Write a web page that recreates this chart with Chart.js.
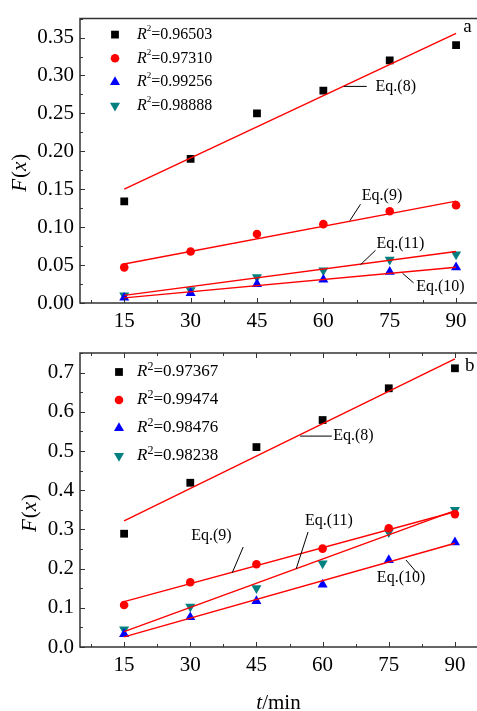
<!DOCTYPE html>
<html>
<head>
<meta charset="utf-8">
<script src="https://cdn.jsdelivr.net/npm/chart.js@4.4.0/dist/chart.umd.min.js"></script>
<style>
    html, body { margin: 0; padding: 0; background: #fff; overflow: hidden; width: 477px; height: 711px; }
    canvas { position: absolute; left: 0; }
    #chartA { top: 0; }
    #chartB { top: 330px; }
</style>
</head>
<body>
<canvas id="chartA" width="484" height="330"></canvas>
<canvas id="chartB" width="484" height="381"></canvas>
<script>
// Values
const times = [15, 30, 45, 60, 75, 90];
const xTicks = [15, 30, 45, 60, 75, 90];

// panel a
const aEq8 = [0.134, 0.190, 0.250, 0.280, 0.320, 0.340];
const aEq9 = [0.047, 0.068, 0.091, 0.104, 0.121, 0.129];
const aEq10 = [0.007, 0.013, 0.025, 0.031, 0.041, 0.047];
const aEq11 = [0.010, 0.017, 0.034, 0.043, 0.057, 0.064];
const aFit8 = [0.150, 0.3555];
const aFit9 = [0.0514, 0.1343];
const aFit10 = [0.0068, 0.0471];
const aFit11 = [0.0101, 0.0679];
const aR2 = ['0.96503', '0.97310', '0.99256', '0.98888'];
const aYTicks = [0, 0.05, 0.10, 0.15, 0.20, 0.25, 0.30, 0.35];

// panel b
const bEq8 = [0.289, 0.419, 0.510, 0.579, 0.660, 0.711];
const bEq9 = [0.107, 0.165, 0.211, 0.251, 0.303, 0.339];
const bEq10 = [0.033, 0.076, 0.117, 0.159, 0.222, 0.267];
const bEq11 = [0.045, 0.103, 0.150, 0.213, 0.293, 0.350];
const bFit8 = [0.3215, 0.735];
const bFit9 = [0.1157, 0.345];
const bFit10 = [0.026, 0.2646];
const bFit11 = [0.039, 0.348];
const bR2 = ['0.97367', '0.99474', '0.98476', '0.98238'];
const bYTicks = [0, 0.1, 0.2, 0.3, 0.4, 0.5, 0.6, 0.7];

const SERIF = '"Liberation Serif", "DejaVu Serif", serif';
const markerStyles = [
    { color: '#000000', pointStyle: 'rect', radius: 5.5, rotation: 0 },
    { color: '#ff0000', pointStyle: 'circle', radius: 4.3, rotation: 0 },
    { color: '#0000ff', pointStyle: 'triangle', radius: 5.8, rotation: 0 },
    { color: '#008080', pointStyle: 'triangle', radius: 5.8, rotation: 180 }
];

function toPoints(xs, ys) {
    return xs.map((x, i) => ({ x: x, y: ys[i] }));
}

function drawRuns(ctx, runs, x, y, align) {
    let total = 0;
    runs.forEach(r => { ctx.font = r.font; total += ctx.measureText(r.t).width + (r.gap || 0); });
    let cx = align === 'center' ? x - total / 2 : x;
    ctx.textAlign = 'left';
    ctx.textBaseline = 'middle';
    runs.forEach(r => {
        ctx.font = r.font;
        ctx.fillText(r.t, cx, y + (r.dy || 0));
        cx += ctx.measureText(r.t).width + (r.gap || 0);
    });
}

// frame, inward ticks, legend, titles and labels
const decorations = {
    id: 'decorations',
    afterDraw(chart, args, o) {
        const ctx = chart.ctx;
        const a = chart.chartArea;
        const xs = chart.scales.x, ys = chart.scales.y;
        ctx.save();

        // axis lines
        ctx.strokeStyle = '#333';
        ctx.lineWidth = 1.5;
        ctx.beginPath();
        ctx.moveTo(a.right + 10, a.top);
        ctx.lineTo(a.left, a.top);
        ctx.lineTo(a.left, a.bottom);
        ctx.lineTo(a.right + 10, a.bottom);
        ctx.stroke();

        // ticks
        ctx.lineWidth = 1;
        ctx.beginPath();
        for (let v = 7.5; v <= xs.max; v += 7.5) {
            const px = Math.round(xs.getPixelForValue(v)) + 0.5;
            const len = xTicks.includes(v) ? 5 : 3;
            ctx.moveTo(px, a.bottom);
            ctx.lineTo(px, a.bottom - len);
            if (o.topTicks) {
                ctx.moveTo(px, a.top);
                ctx.lineTo(px, a.top + len);
            }
        }
        const step = o.yTicks[1] - o.yTicks[0];
        for (let i = 0; i < o.yTicks.length; i++) {
            const v0 = o.yTicks[i];
            [v0, v0 + step / 2].forEach((v, k) => {
                if (v > ys.max) return;
                const py = Math.round(ys.getPixelForValue(v)) + 0.5;
                ctx.moveTo(a.left, py);
                ctx.lineTo(a.left + (k === 0 ? 5 : 3), py);
            });
        }
        ctx.stroke();

        // legend
        o.r2.forEach((txt, i) => {
            const m = markerStyles[i];
            const ly = a.top + o.legendY + i * o.legendGap;
            ctx.fillStyle = m.color;
            ctx.strokeStyle = m.color;
            Chart.helpers.drawPoint(ctx, { pointStyle: m.pointStyle, radius: m.radius, rotation: m.rotation, borderWidth: 0 },
                a.left + o.legendX, ly);
            ctx.fillStyle = '#000';
            drawRuns(ctx, [
                { t: 'R', font: 'italic ' + o.legendFont + 'px ' + SERIF },
                { t: '2', font: o.supFont + 'px ' + SERIF, dy: -o.supRise },
                { t: '=' + txt, font: o.legendFont + 'px ' + SERIF }
            ], a.left + o.legendText, ly, 'left');
        });

        // equation labels with leader lines
        ctx.strokeStyle = '#000';
        ctx.fillStyle = '#000';
        ctx.lineWidth = 1;
        o.labels.forEach(l => {
            if (l.lead) {
                ctx.beginPath();
                ctx.moveTo(xs.getPixelForValue(l.lead[0]), ys.getPixelForValue(l.lead[1]));
                ctx.lineTo(xs.getPixelForValue(l.lead[2]), ys.getPixelForValue(l.lead[3]));
                ctx.stroke();
            }
            ctx.font = l.size + 'px ' + SERIF;
            ctx.textAlign = 'left';
            ctx.textBaseline = 'middle';
            ctx.fillText(l.text, xs.getPixelForValue(l.x), ys.getPixelForValue(l.y));
        });

        // y title F(x)
        ctx.save();
        ctx.translate(a.left + o.yTitleDx, (a.top + a.bottom) / 2 + o.yTitleDy);
        ctx.rotate(-Math.PI / 2);
        drawRuns(ctx, [
            { t: 'F', font: 'italic 21px ' + SERIF, gap: 1 },
            { t: '(', font: '21px ' + SERIF },
            { t: 'x', font: 'italic 21px ' + SERIF, gap: 1 },
            { t: ')', font: '21px ' + SERIF }
        ], 0, 0, 'center');
        ctx.restore();

        // x title t/min
        if (o.xTitle) {
            drawRuns(ctx, [
                { t: 't', font: 'italic 21px ' + SERIF },
                { t: '/min', font: '21px ' + SERIF }
            ], (a.left + a.right) / 2, a.bottom + o.xTitleDy, 'center');
        }
        ctx.restore();
    }
};

function makeChart(id, p) {
    const names = ['Eq.(8)', 'Eq.(9)', 'Eq.(10)', 'Eq.(11)'];
    const markerSets = p.series.map((s, i) => ({
        label: names[i],
        data: toPoints(times, s),
        showLine: false,
        order: 2,
        pointStyle: markerStyles[i].pointStyle,
        rotation: markerStyles[i].rotation,
        pointRadius: markerStyles[i].radius,
        pointBackgroundColor: markerStyles[i].color,
        pointBorderWidth: 0,
        borderColor: markerStyles[i].color
    }));
    const fitSets = p.fits.map((f, i) => ({
        label: names[i] + ' fit',
        data: toPoints([15, 90], f),
        showLine: true,
        order: 1,
        borderColor: '#ff0000',
        borderWidth: 1.4,
        pointRadius: 0
    }));

    return new Chart(document.getElementById(id), {
        type: 'scatter',
        data: { datasets: markerSets.concat(fitSets) },
        options: {
            responsive: false,
            animation: false,
            devicePixelRatio: 1,
            layout: { padding: p.padding },
            plugins: {
                legend: { display: false },
                tooltip: { enabled: false },
                decorations: p.deco
            },
            scales: {
                x: {
                    type: 'linear',
                    min: 5,
                    max: 95,
                    grid: { display: false, drawTicks: false },
                    border: { display: false },
                    afterBuildTicks: s => { s.ticks = xTicks.map(v => ({ value: v })); },
                    afterFit: s => { s.height = p.xHeight; },
                    ticks: { color: '#000', padding: 6, font: { family: SERIF, size: 21 }, maxRotation: 0 }
                },
                y: {
                    type: 'linear',
                    min: 0,
                    max: p.yMax,
                    grid: { display: false, drawTicks: false },
                    border: { display: false },
                    afterBuildTicks: s => { s.ticks = p.yTicks.map(v => ({ value: v })); },
                    afterFit: s => { s.width = 80; },
                    ticks: {
                        color: '#000', padding: 6, font: { family: SERIF, size: 21 },
                        callback: v => v.toFixed(p.decimals)
                    }
                }
            }
        },
        plugins: [decorations]
    });
}

makeChart('chartA', {
    series: [aEq8, aEq9, aEq10, aEq11],
    fits: [aFit8, aFit9, aFit10, aFit11],
    yMax: 0.375,
    yTicks: aYTicks,
    decimals: 2,
    xHeight: 27,
    padding: { top: 6, right: 4, left: 0, bottom: 0 },
    deco: {
        yTicks: aYTicks, topTicks: false, r2: aR2,
        legendX: 35, legendY: 16, legendGap: 23.7, legendText: 57,
        legendFont: 16, supFont: 9, supRise: 6,
        yTitleDx: -60, yTitleDy: 12, xTitle: false,
        labels: [
            { text: 'Eq.(8)', size: 16, x: 71.8, y: 0.2856, lead: [64.6, 0.2856, 69.8, 0.2856] },
            { text: 'Eq.(9)', size: 16, x: 68.7, y: 0.1415, lead: [66.0, 0.1087, 68.4, 0.1302] },
            { text: 'Eq.(11)', size: 16, x: 72.0, y: 0.0783, lead: [68.4, 0.0505, 71.8, 0.0695] },
            { text: 'Eq.(10)', size: 16, x: 81.0, y: 0.0215, lead: [77.9, 0.0392, 80.4, 0.0265] },
            { text: 'a', size: 19, x: 91.6, y: 0.364 }
        ]
    }
});

makeChart('chartB', {
    series: [bEq8, bEq9, bEq10, bEq11],
    fits: [bFit8, bFit9, bFit10, bFit11],
    yMax: 0.75,
    yTicks: bYTicks,
    decimals: 1,
    xHeight: 64,
    padding: { top: 23, right: 7, left: 0, bottom: 0 },
    deco: {
        yTicks: bYTicks, topTicks: true, r2: bR2,
        legendX: 39, legendY: 19, legendGap: 28, legendText: 57,
        legendFont: 17, supFont: 12, supRise: 5,
        yTitleDx: -50, yTitleDy: 13, xTitle: true, xTitleDy: 56,
        labels: [
            { text: 'Eq.(8)', size: 16, x: 62.4, y: 0.538, lead: [54.9, 0.538, 62.1, 0.538] },
            { text: 'Eq.(9)', size: 16, x: 30.2, y: 0.283, lead: [39.5, 0.189, 42.0, 0.255] },
            { text: 'Eq.(11)', size: 16, x: 56.0, y: 0.3215, lead: [54.0, 0.199, 56.7, 0.2934] },
            { text: 'Eq.(10)', size: 16, x: 72.3, y: 0.176, lead: [78.9, 0.222, 81.4, 0.189] },
            { text: 'b', size: 19, x: 92.3, y: 0.717 }
        ]
    }
});
</script>
</body>
</html>
